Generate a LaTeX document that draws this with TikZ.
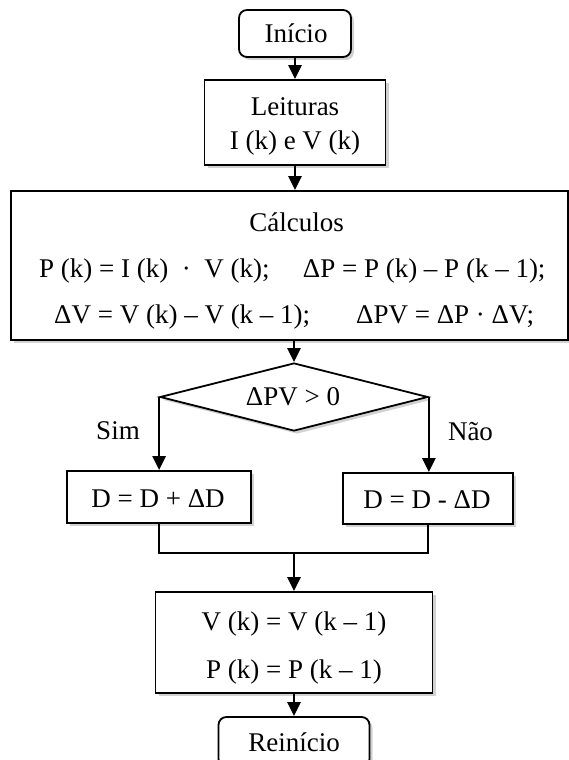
\documentclass[tikz,border=0pt]{standalone}
\usepackage{fontspec}
\setmainfont{Liberation Serif}
\usetikzlibrary{arrows.meta,shadows,shapes.geometric}
\begin{document}
\begin{tikzpicture}[x=1pt,y=-1pt,
  box/.style={draw=black,line width=1.8pt,fill=white,inner sep=0pt,
    drop shadow={shadow xshift=3pt,shadow yshift=-3pt,opacity=0.25,fill=black!70}},
  term/.style={box,rounded corners=8pt},
  txt/.style={font=\fontsize{27}{30}\selectfont,inner sep=0pt,anchor=base},
  conn/.style={line width=2.6pt,-{Triangle[width=13pt,length=14pt]}},
  wire/.style={line width=2.6pt,line join=miter}]
\useasboundingbox (0,0) rectangle (569,760);

% boxes
\node[term,minimum width=112pt,minimum height=47pt] (inicio) at (295,33.5) {};
\node[box,minimum width=181pt,minimum height=85pt] (leit) at (295,122.5) {};
\node[box,minimum width=557pt,minimum height=149pt] (calc) at (289.5,265.5) {};
\node[draw=black,line width=1.8pt,fill=white,diamond,inner sep=0pt,
      minimum width=268pt,minimum height=68pt,
      drop shadow={shadow xshift=3pt,shadow yshift=-3pt,opacity=0.25,fill=black!70}] (dia) at (294,397) {};
\node[box,minimum width=184pt,minimum height=52pt] (dplus) at (159,497) {};
\node[box,minimum width=170pt,minimum height=51pt] (dminus) at (428,498.5) {};
\node[box,minimum width=277pt,minimum height=101pt] (vk) at (294,642.5) {};
\node[term,minimum width=151pt,minimum height=50pt] (rein) at (294,742) {};

% texts
\node[txt] (tinicio) at (296,42.7) {Início};
\node[txt] (tleit1) at (295,115) {Leituras};
\node[txt] (tleit2) at (295,149.5) {I (k) e V (k)};
\node[txt] (tcalc) at (296.5,231) {Cálculos};
\node[txt,anchor=base west] (tc1a) at (39,277) {P (k) = I (k) \ · \ V (k);};
\node[txt,anchor=base west] (tc1b) at (302.7,277) {ΔP = P (k) – P (k – 1);};
\node[txt,anchor=base west] (tc2a) at (54,323) {ΔV = V (k) – V (k – 1);};
\node[txt,anchor=base west] (tc2b) at (356,323) {ΔPV = ΔP · ΔV;};
\node[txt] (tdia) at (293,405) {ΔPV > 0};
\node[txt] (tsim) at (118,439) {Sim};
\node[txt] (tnao) at (470.5,440) {Não};
\node[txt] (tdplus) at (158,507) {D = D + ΔD};
\node[txt] (tdminus) at (427,508) {D = D - ΔD};
\node[txt] (tvk1) at (294,630) {V (k) = V (k – 1)};
\node[txt] (tvk2) at (294,678) {P (k) = P (k – 1)};
\node[txt] (trein) at (294,751.5) {Reinício};

% connectors
\draw[conn] (inicio.south) -- (leit.north);
\draw[conn] (leit.south) -- (leit.south |- calc.north);
\draw[conn] (calc.south -| dia.north) -- (dia.north);
\draw[conn] (dia.west) -- (dia.west |- dplus.north);
\draw[conn] (dia.east) -- (dia.east |- dminus.north);
\coordinate (mj) at (294,553);
\draw[wire] (dplus.south) |- (dminus.south |- mj) -- (dminus.south);
\draw[conn] (mj) -- (vk.north);
\draw[conn] (vk.south) -- (rein.north);
\end{tikzpicture}
\end{document}
